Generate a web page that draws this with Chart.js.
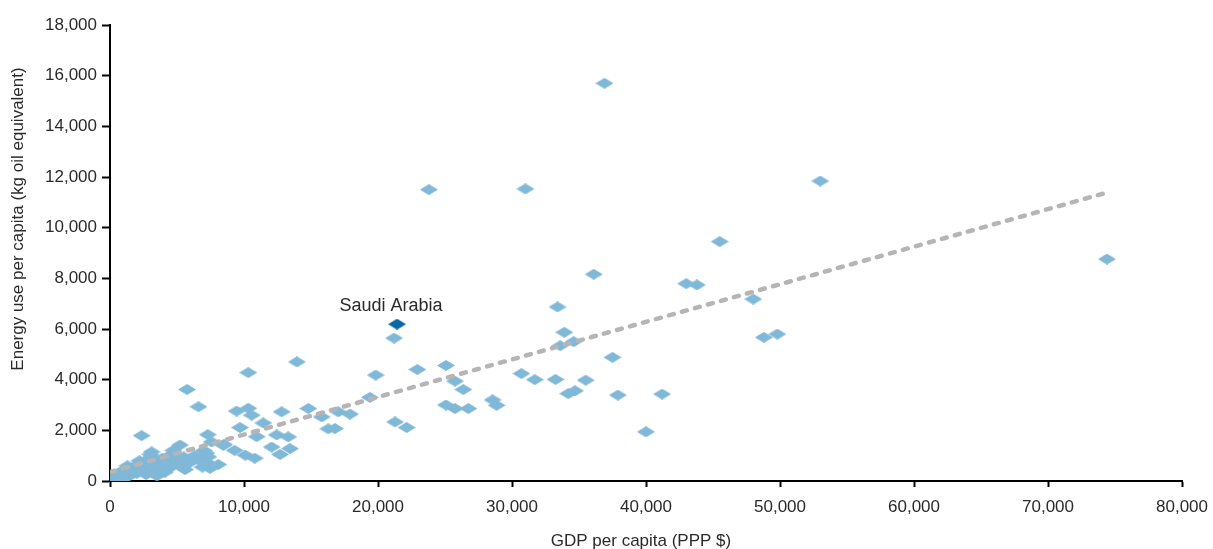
<!DOCTYPE html>
<html>
<head>
<meta charset="utf-8">
<script src="https://cdn.jsdelivr.net/npm/chart.js@4.4.0/dist/chart.umd.min.js"></script>
<style>
  html, body { margin: 0; padding: 0; background: #fff; }
  #wrap { width: 1213px; height: 549px; }
</style>
</head>
<body>
<div id="wrap"><canvas id="grafico"></canvas></div>
<script>
// GDP per capita (PPP $) and energy use per capita (kg oil equivalent), one entry per country
const gdp = [
  36900, 23800, 31000, 53000, 45500, 74400, 36100, 43000, 43800, 48000,
  33400, 21200, 33900, 33600, 34600, 48800, 49800, 37500, 13950, 10320,
  25070, 22930, 19830, 30700, 31700, 33250, 35500, 25750, 26370, 19400,
  25070, 25750, 26740, 28550, 28850, 21270, 22140, 34200, 34700, 37900,
  41200, 40000, 5750, 6600, 9450, 10320, 10570, 12810, 14800, 15800,
  17040, 17910, 11440, 9700, 10950, 12440, 13300, 16290, 16790, 7300,
  7580, 8460, 9300, 12070, 13430, 12690, 10100, 10800, 5220, 8080,
  7460, 2360, 3110, 4480, 4720, 7340, 6000, 6700, 7200, 7500,
  300, 500, 700, 800, 1000, 1100, 1200, 1400, 1500, 1600,
  1800, 1900, 2000, 2100, 2300, 2400, 2500, 2600, 2800, 2900,
  3000, 3100, 3300, 3400, 3600, 3700, 3900, 4000, 4200, 4400,
  4600, 4800, 5000, 5300, 5500, 5800, 600, 1300, 2200, 3500,
  4100, 2700, 1000, 3500, 6300, 8500, 7000, 6900, 5600, 3000
];
const energy = [
  15700, 11500, 11530, 11840, 9450, 8760, 8160, 7790, 7740, 7180,
  6870, 5640, 5870, 5340, 5500, 5670, 5800, 4880, 4700, 4280,
  4560, 4400, 4180, 4240, 4000, 4010, 3980, 3940, 3610, 3300,
  3000, 2860, 2860, 3200, 2990, 2330, 2110, 3450, 3560, 3390,
  3430, 1940, 3610, 2930, 2760, 2870, 2600, 2730, 2860, 2530,
  2730, 2640, 2290, 2110, 1750, 1820, 1740, 2060, 2070, 1830,
  1540, 1410, 1210, 1340, 1280, 1050, 1020, 900, 1420, 650,
  500, 1790, 1150, 1020, 1210, 950, 750, 800, 1100, 650,
  100, 200, 150, 350, 250, 450, 150, 300, 500, 250,
  400, 600, 300, 500, 650, 400, 750, 550, 850, 450,
  650, 950, 550, 800, 700, 400, 900, 600, 800, 500,
  900, 700, 850, 600, 950, 700, 300, 600, 800, 300,
  350, 250, 80, 200, 1000, 1450, 1200, 550, 450, 1050
];

// highlighted country
const destaqueNome = "Saudi Arabia";
const destaqueGdp = [21420];
const destaqueEnergy = [6190];

// linear trend line end points
const tendenciaGdp = [0, 74300];
const tendenciaEnergy = [350, 11370];

const xTitulo = "GDP per capita (PPP $)";
const yTitulo = "Energy use per capita (kg oil equivalent)";

const azulClaro = "#80b8d8";
const azulEscuro = "#0a68a6";
const fonte = "'Liberation Sans', Arial, sans-serif";

// flattened diamond used as marker
function criaLosango(cor) {
  const c = document.createElement("canvas");
  c.width = 18;
  c.height = 11;
  const g = c.getContext("2d");
  g.fillStyle = cor;
  g.beginPath();
  g.moveTo(9, 0);
  g.lineTo(18, 5.5);
  g.lineTo(9, 11);
  g.lineTo(0, 5.5);
  g.closePath();
  g.fill();
  return c;
}

const pontos = gdp.map((x, i) => ({ x: x, y: energy[i] }));
const destaque = destaqueGdp.map((x, i) => ({ x: x, y: destaqueEnergy[i] }));
const tendencia = tendenciaGdp.map((x, i) => ({ x: x, y: tendenciaEnergy[i] }));

// axis titles and the highlighted country label
const textos = {
  id: "textos",
  afterDraw(chart) {
    const ctx = chart.ctx;
    ctx.save();
    ctx.fillStyle = "#2a2a2a";
    ctx.font = "17px " + fonte;
    ctx.textAlign = "center";
    ctx.textBaseline = "middle";
    ctx.fillText(xTitulo, 641, 541);
    ctx.translate(18, 219);
    ctx.rotate(-Math.PI / 2);
    ctx.fillText(yTitulo, 0, 0);
    ctx.restore();

    const pt = chart.getDatasetMeta(2).data[0];
    ctx.save();
    ctx.fillStyle = "#2a2a2a";
    ctx.font = "18px " + fonte;
    ctx.textAlign = "center";
    ctx.textBaseline = "middle";
    ctx.fillText(destaqueNome, pt.x - 6, pt.y - 18);
    ctx.restore();
  }
};

const ctxGrafico = document.getElementById("grafico").getContext("2d");
new Chart(ctxGrafico, {
  type: "scatter",
  data: {
    datasets: [
      {
        type: "line",
        data: tendencia,
        borderColor: "#b5b5b5",
        borderWidth: 4.5,
        borderDash: [5, 8.5],
        borderCapStyle: "round",
        pointRadius: 0,
        fill: false,
        order: 0
      },
      {
        data: pontos,
        pointStyle: criaLosango(azulClaro),
        order: 2
      },
      {
        data: destaque,
        pointStyle: criaLosango(azulEscuro),
        order: 1
      }
    ]
  },
  options: {
    responsive: true,
    maintainAspectRatio: false,
    animation: false,
    layout: { padding: { top: 25, right: 31, bottom: 0, left: 0 } },
    plugins: {
      legend: { display: false },
      tooltip: { enabled: false }
    },
    scales: {
      x: {
        type: "linear",
        min: 0,
        max: 80000,
        afterFit: (s) => { s.height = 68; s.paddingLeft = 0; s.paddingRight = 0; },
        border: { color: "#000", width: 2 },
        grid: { drawOnChartArea: false, tickLength: 6, tickColor: "#000", tickWidth: 2 },
        ticks: {
          stepSize: 10000,
          padding: 10,
          color: "#2a2a2a",
          font: { family: fonte, size: 17 },
          callback: (v) => v.toLocaleString("en-US")
        }
      },
      y: {
        min: 0,
        max: 18000,
        afterFit: (s) => { s.width = 110; s.paddingTop = 0; s.paddingBottom = 0; },
        border: { color: "#000", width: 2 },
        grid: { drawOnChartArea: false, tickLength: 8, tickColor: "#000", tickWidth: 2 },
        ticks: {
          stepSize: 2000,
          padding: 5,
          color: "#2a2a2a",
          font: { family: fonte, size: 17 },
          callback: (v) => v.toLocaleString("en-US")
        }
      }
    }
  },
  plugins: [textos]
});
</script>
</body>
</html>
